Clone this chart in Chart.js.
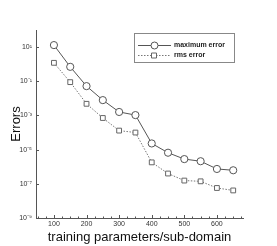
<!DOCTYPE html>
<html>
<head>
<meta charset="utf-8">
<script src="https://cdn.jsdelivr.net/npm/chart.js@4"></script>
<style>
html,body{margin:0;padding:0;background:#fff;}
#wrap{width:277px;height:246px;}
</style>
</head>
<body>
<div id="wrap"><canvas id="c" width="277" height="246"></canvas></div>
<script>
const trainingParams = [100,150,200,250,300,350,400,450,500,550,600,650];
const maxError = [13.1,0.70,0.052,0.0079,0.0016,0.00105,2.3e-5,6.6e-6,2.8e-6,2.1e-6,7.4e-7,6.2e-7];
const rmsError = [1.2,0.089,0.0048,7.1e-4,1.3e-4,1.0e-4,1.8e-6,4.0e-7,1.55e-7,1.4e-7,5.7e-8,4.1e-8];
const seriesLabels = ['maximum error','rms error'];
const yTickValues = [1e1,1e-1,1e-3,1e-5,1e-7,1e-9];
const yTickLabels = ['10\u00B9','10\u207B\u00B9','10\u207B\u00B3','10\u207B\u2075','10\u207B\u2077','10\u207B\u2079'];
const xTickValues = [100,200,300,400,500,600];
const xMinorValues = [50,75,125,150,175,225,250,275,325,350,375,425,450,475,525,550,575,625,650,675];
const xTitle = 'training parameters/sub-domain';
const yTitle = 'Errors';

const FONT = '"Liberation Sans", Arial, Helvetica, sans-serif';

const innerTicks = {
  id:'innerTicks',
  afterDraw(chart){
    const ctx = chart.ctx, xs = chart.scales.x, ys = chart.scales.y;
    const a = chart.chartArea;
    ctx.save();
    ctx.strokeStyle = '#555';
    ctx.lineWidth = 1;
    ctx.beginPath();
    xTickValues.forEach(v=>{const p=Math.round(xs.getPixelForValue(v))+0.5; ctx.moveTo(p,a.bottom); ctx.lineTo(p,a.bottom-3);});
    xMinorValues.forEach(v=>{const p=Math.round(xs.getPixelForValue(v))+0.5; ctx.moveTo(p,a.bottom); ctx.lineTo(p,a.bottom-1.5);});
    yTickValues.forEach(v=>{const p=Math.round(ys.getPixelForValue(v))+0.5; ctx.moveTo(a.left,p); ctx.lineTo(a.left+3,p);});
    ctx.stroke();
    ctx.restore();
  }
};

const boxLegend = {
  id:'boxLegend',
  afterDraw(chart){
    const ctx = chart.ctx;
    const bx = 134.5, by = 33.5, bw = 100, bh = 29;
    ctx.save();
    ctx.fillStyle = '#fff';
    ctx.fillRect(bx,by,bw,bh);
    ctx.strokeStyle = '#888';
    ctx.lineWidth = 1;
    ctx.strokeRect(bx,by,bw,bh);
    chart.data.datasets.forEach((ds,i)=>{
      const y = 45 + i*10 + 0.5;
      ctx.strokeStyle = ds.borderColor;
      ctx.lineWidth = 1;
      ctx.setLineDash(ds.borderDash || []);
      ctx.beginPath(); ctx.moveTo(138,y); ctx.lineTo(171,y); ctx.stroke();
      ctx.setLineDash([]);
      ctx.fillStyle = '#fff';
      ctx.strokeStyle = ds.pointBorderColor;
      ctx.beginPath();
      if (ds.pointStyle === 'rect') { ctx.rect(151.5,y-2.5,5,5); }
      else { ctx.arc(154.5,y,3.5,0,Math.PI*2); }
      ctx.fill(); ctx.stroke();
      ctx.fillStyle = '#222';
      ctx.font = 'bold 7px ' + FONT;
      ctx.textBaseline = 'middle';
      ctx.fillText(ds.label, 174, y);
    });
    ctx.restore();
  }
};

new Chart(document.getElementById('c'), {
  type:'line',
  data:{
    datasets:[
      {label:seriesLabels[0], data:trainingParams.map((x,i)=>({x:x,y:maxError[i]})),
       borderColor:'#555', borderWidth:1, pointStyle:'circle', pointRadius:3.6,
       pointBackgroundColor:'#fff', pointBorderColor:'#555', pointBorderWidth:1, tension:0},
      {label:seriesLabels[1], data:trainingParams.map((x,i)=>({x:x,y:rmsError[i]})),
       borderColor:'#777', borderWidth:1, borderDash:[1.5,1.5], pointStyle:'rect', pointRadius:3.4,
       pointBackgroundColor:'#fff', pointBorderColor:'#666', pointBorderWidth:1, tension:0}
    ]
  },
  options:{
    responsive:false,
    animation:false,
    devicePixelRatio:1,
    layout:{padding:{top:30,right:34,left:0,bottom:0}},
    plugins:{legend:{display:false}, tooltip:{enabled:false}},
    scales:{
      x:{
        type:'linear', min:45, max:680,
        afterBuildTicks(s){ s.ticks = xTickValues.map(v=>({value:v})); },
        afterFit(s){ s.height = 28; },
        grid:{display:false, drawTicks:false},
        border:{display:true, color:'#555', width:1},
        ticks:{font:{size:7, family:FONT}, color:'#333', padding:2, maxRotation:0, callback:(v)=>String(v)},
        title:{display:true, text:xTitle, font:{size:13, family:FONT}, color:'#111', padding:{top:0,bottom:1}}
      },
      y:{
        type:'logarithmic', min:1e-9, max:1e2,
        afterBuildTicks(s){ s.ticks = yTickValues.map(v=>({value:v})); },
        afterFit(s){ s.width = 36; },
        grid:{display:false, drawTicks:false},
        border:{display:true, color:'#555', width:1},
        ticks:{font:{size:7, family:FONT}, color:'#333', padding:4,
          callback:(v)=>{const i=yTickValues.findIndex(t=>Math.abs(Math.log10(t)-Math.log10(v))<1e-6); return i>=0?yTickLabels[i]:'';}},
        title:{display:true, text:yTitle, font:{size:13, family:FONT}, color:'#111', padding:{top:9,bottom:0}}
      }
    }
  },
  plugins:[innerTicks, boxLegend]
});
</script>
</body>
</html>
